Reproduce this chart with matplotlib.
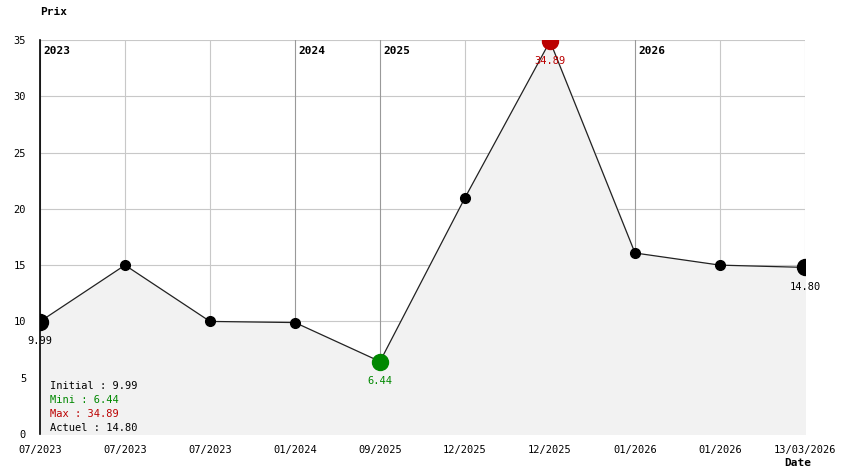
import matplotlib
matplotlib.use("Agg")
import matplotlib.pyplot as plt

dates = ["07/2023", "07/2023", "07/2023", "01/2024", "09/2025",
         "12/2025", "12/2025", "01/2026", "01/2026", "13/03/2026"]
prix = [9.99, 15.0, 10.0, 9.9, 6.44, 20.99, 34.89, 16.08, 15.0, 14.80]
annees = ["2023", "2024", "2025", "2026"]
idx_annees = [0, 3, 4, 7]

VERT = "#008800"
ROUGE = "#bb0000"
plt.rcParams['font.family'] = ['DejaVu Sans Mono']

fig = plt.figure(figsize=(8.44, 4.74), dpi=100)
ax = fig.add_axes([40 / 844, 1 - 434 / 474, 765 / 844, 394 / 474])

x = list(range(len(prix)))
ax.set_xlim(0, len(prix) - 1)
ax.set_ylim(0, 35)

# grille
for v in range(0, 36, 5):
    ax.axhline(v, color="#c8c8c8", lw=0.8, zorder=0)
for i in x:
    c = "#999999" if i in idx_annees else "#c8c8c8"
    ax.axvline(i, color=c, lw=0.8, zorder=0)

ax.fill_between(x, prix, 0, color="#f2f2f2", zorder=1)
ax.plot(x, prix, color="#222222", lw=0.9, zorder=2)
ax.plot(x, prix, "o", color="black", ms=7, zorder=3)

i_min = prix.index(min(prix))
i_max = prix.index(max(prix))
ax.plot([0, len(prix) - 1], [prix[0], prix[-1]], "o", color="black", ms=11.5, zorder=4)
ax.plot(i_min, prix[i_min], "o", color=VERT, ms=11.5, zorder=4)
ax.plot(i_max, prix[i_max], "o", color=ROUGE, ms=11.5, zorder=4)

def etiquette(i, coul):
    ax.annotate("%.2f" % prix[i], (i, prix[i]), xytext=(0, -14), textcoords="offset points",
                ha="center", va="center", fontsize=7.5, color=coul, zorder=5)

etiquette(0, "black")
etiquette(i_min, VERT)
etiquette(i_max, ROUGE)
etiquette(len(prix) - 1, "black")

for a, i in zip(annees, idx_annees):
    ax.text(i + 0.04, 34.0, a, fontsize=8, fontweight="bold", va="center", ha="left", zorder=5)

# légende
legende = [("Initial : %.2f" % prix[0], "black"),
           ("Mini : %.2f" % min(prix), VERT),
           ("Max : %.2f" % max(prix), ROUGE),
           ("Actuel : %.2f" % prix[-1], "black")]
for k, (t, c) in enumerate(legende):
    fig.text(50 / 844, 1 - (386 + 14 * k) / 474, t, color=c, fontsize=7.5, va="center")

ax.set_xticks(x)
ax.set_xticklabels(dates, fontsize=7.5)
ax.set_yticks(range(0, 36, 5))
ax.tick_params(axis="y", labelsize=7.5, length=0, pad=10)
ax.tick_params(axis="x", length=0, pad=8)
for s in ["top", "right", "bottom"]:
    ax.spines[s].set_visible(False)
ax.spines["left"].set_color("black")
ax.spines["left"].set_linewidth(1.2)

fig.text(40 / 844, 1 - 12 / 474, "Prix", fontsize=8, fontweight="bold", va="center")
fig.text(784 / 844, 1 - 463 / 474, "Date", fontsize=8, fontweight="bold", va="center")

fig.savefig("out.png", dpi=100)
